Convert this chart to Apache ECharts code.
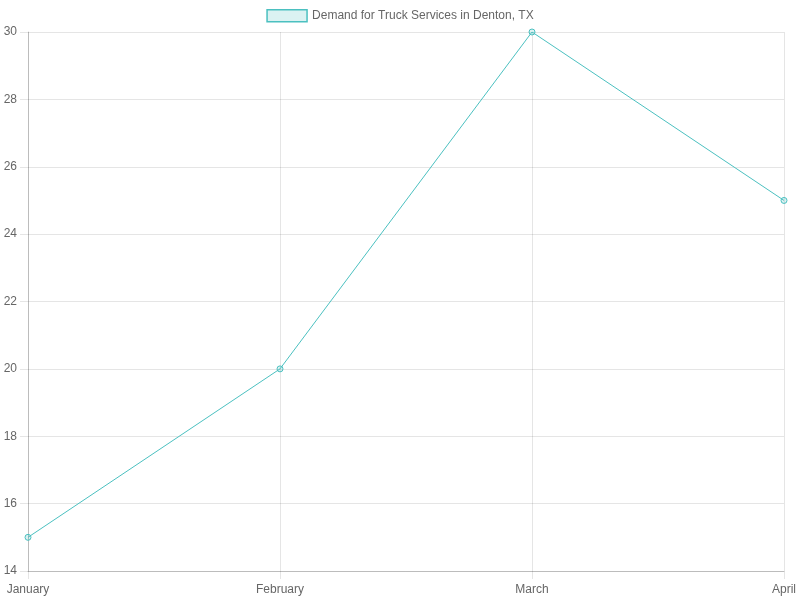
<!DOCTYPE html>
<html>
<head>
<meta charset="utf-8">
<script src="https://cdn.jsdelivr.net/npm/echarts@6/dist/echarts.min.js"></script>
<style>html,body{margin:0;padding:0;background:#fff;}#c{width:800px;height:600px;}</style>
</head>
<body>
<div id="c"></div>
<script>
var categories = ['January', 'February', 'March', 'April'];
var demandValues = [15, 20, 30, 25];
var seriesName = 'Demand for Truck Services in Denton, TX';

var chart = echarts.init(document.getElementById('c'));
chart.setOption({
  animation: false,
  textStyle: { fontFamily: 'Liberation Sans, Arial, Helvetica, sans-serif' },
  legend: {
    top: 4,
    left: 'center',
    itemWidth: 40,
    itemHeight: 12,
    itemGap: 10,
    icon: 'rect',
    textStyle: { color: '#666', fontSize: 12 },
    data: [{ name: seriesName, itemStyle: { color: 'rgba(75,192,192,0.2)', borderColor: 'rgb(75,192,192)', borderWidth: 1.5 } }]
  },
  grid: { left: 28, right: 16, top: 32, bottom: 29, containLabel: false },
  xAxis: {
    type: 'category',
    data: categories,
    boundaryGap: false,
    axisLine: { lineStyle: { color: 'rgba(0,0,0,0.18)' } },
    axisTick: { show: true, length: 8, alignWithLabel: true, lineStyle: { color: 'rgba(0,0,0,0.1)' } },
    axisLabel: { color: '#666', fontSize: 12, margin: 13, interval: 0 },
    splitLine: { show: true, lineStyle: { color: 'rgba(0,0,0,0.1)' } }
  },
  yAxis: {
    type: 'value',
    min: 14,
    max: 30,
    interval: 2,
    axisLine: { show: true, lineStyle: { color: 'rgba(0,0,0,0.18)' } },
    axisTick: { show: true, length: 8, lineStyle: { color: 'rgba(0,0,0,0.1)' } },
    axisLabel: { color: '#666', fontSize: 12, margin: 11 },
    splitLine: { show: true, lineStyle: { color: 'rgba(0,0,0,0.1)' } }
  },
  series: [{
    name: seriesName,
    type: 'line',
    data: demandValues,
    symbol: 'circle',
    symbolSize: 6,
    lineStyle: { color: 'rgb(75,192,192)', width: 1 },
    itemStyle: { color: 'rgba(75,192,192,0.2)', borderColor: 'rgb(75,192,192)', borderWidth: 1 }
  }]
});
</script>
</body>
</html>
